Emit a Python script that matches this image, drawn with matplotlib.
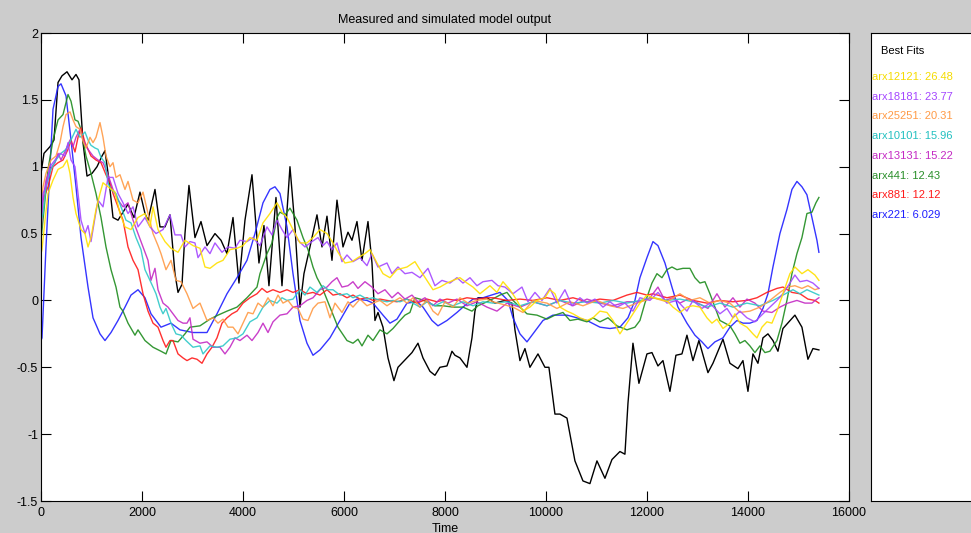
import matplotlib
matplotlib.use("Agg")
import matplotlib.pyplot as plt

plt.rcParams['font.family'] = ['Liberation Sans', 'DejaVu Sans']

# ---------------- data (time, output) ----------------
measured = [(0,0.95),(59,1.1),(178,1.15),(257,1.2),(337,1.63),(416,1.68),(515,1.71),(614,1.65),(693,1.69),(752,1.65),
(832,1.18),(911,0.93),(1010,0.95),(1109,1.0),(1208,1.08),(1267,1.12),(1346,0.9),(1426,0.62),(1525,0.6),(1624,0.66),
(1723,0.72),(1841,0.62),(1960,0.81),(2059,0.65),(2119,0.6),(2257,0.83),(2356,0.55),(2455,0.55),(2554,0.64),(2653,0.2),
(2713,0.06),(2792,0.12),(2851,0.5),(2930,0.86),(3049,0.47),(3168,0.59),(3287,0.41),(3445,0.5),(3564,0.45),(3683,0.35),
(3802,0.62),(3920,0.13),(4039,0.6),(4178,0.94),(4316,0.28),(4415,0.56),(4514,0.11),(4653,0.77),(4772,0.11),(4930,1.0),
(5029,0.55),(5128,-0.05),(5207,0.2),(5326,0.4),(5465,0.64),(5564,0.4),(5663,0.63),(5762,0.3),(5861,0.75),(5980,0.4),
(6079,0.51),(6158,0.45),(6257,0.59),(6356,0.3),(6475,0.59),(6554,0.28),(6613,-0.15),(6673,-0.09),(6772,-0.2),(6871,-0.43),
(6989,-0.6),(7069,-0.5),(7247,-0.43),(7346,-0.39),(7465,-0.32),(7564,-0.43),(7702,-0.53),(7801,-0.56),(7900,-0.5),(8039,-0.49),
(8138,-0.38),(8197,-0.41),(8296,-0.43),(8435,-0.5),(8534,-0.28),(8593,-0.08),(8653,0.02),(8831,0.02),(8989,-0.02),(9187,0.0),
(9326,-0.02),(9385,-0.22),(9484,-0.45),(9583,-0.36),(9682,-0.5),(9841,-0.4),(9979,-0.5),(10058,-0.5),(10177,-0.85),(10276,-0.85),
(10415,-0.88),(10573,-1.2),(10732,-1.35),(10870,-1.37),(11009,-1.2),(11167,-1.33),(11306,-1.19),(11464,-1.13),(11563,-1.15),(11623,-0.77),
(11722,-0.32),(11840,-0.62),(11999,-0.4),(12098,-0.39),(12217,-0.49),(12316,-0.45),(12454,-0.68),(12573,-0.41),(12692,-0.4),(12791,-0.26),
(12910,-0.45),(13028,-0.3),(13207,-0.54),(13306,-0.47),(13504,-0.29),(13642,-0.47),(13801,-0.51),(13900,-0.45),(13999,-0.68),(14098,-0.4),
(14197,-0.47),(14296,-0.28),(14395,-0.25),(14494,-0.3),(14593,-0.38),(14692,-0.21),(14929,-0.11),(15068,-0.2),(15187,-0.44),(15286,-0.36),
(15404,-0.37)]

arx221 = [(0,-0.3),(20,-0.28),(99,0.4),(178,1.0),(238,1.43),(337,1.6),(396,1.62),(495,1.53),(594,1.2),(693,0.85),(792,0.47),
(931,0.1),(1030,-0.13),(1168,-0.25),(1267,-0.3),(1386,-0.24),(1525,-0.15),(1663,-0.05),(1782,0.04),(1921,0.08),(2059,0.02),
(2178,-0.1),(2376,-0.2),(2574,-0.17),(2752,-0.22),(3010,-0.24),(3287,-0.24),(3485,-0.1),(3683,0.05),(3881,0.17),(4079,0.3),
(4237,0.5),(4396,0.73),(4534,0.83),(4633,0.85),(4732,0.8),(4871,0.55),(4990,0.2),(5128,-0.15),(5267,-0.32),(5386,-0.41),
(5524,-0.37),(5722,-0.28),(5920,-0.15),(6118,-0.02),(6257,0.01),(6455,0.0),(6574,-0.02),(6772,-0.11),(6910,-0.17),(7049,-0.14),
(7247,-0.02),(7445,-0.01),(7564,-0.05),(7742,-0.15),(7861,-0.19),(8039,-0.15),(8237,-0.09),(8356,-0.05),(8554,0.01),(8752,0.02),
(9088,0.06),(9247,0.0),(9346,-0.13),(9484,-0.25),(9623,-0.31),(9742,-0.25),(9940,-0.15),(10138,-0.11),(10415,-0.11),(10613,-0.13),
(10811,-0.15),(11068,-0.2),(11266,-0.21),(11464,-0.2),(11623,-0.13),(11761,0.0),(11860,0.17),(11999,0.32),(12118,0.44),(12217,0.41),
(12355,0.28),(12494,0.1),(12613,-0.05),(12791,-0.17),(12949,-0.26),(13088,-0.31),(13207,-0.36),(13345,-0.31),(13504,-0.28),(13642,-0.2),
(13781,-0.15),(13900,-0.17),(14038,-0.17),(14177,-0.15),(14296,-0.06),(14395,0.05),(14494,0.25),(14632,0.5),(14771,0.68),(14870,0.83),
(14969,0.89),(15068,0.85),(15167,0.79),(15266,0.62),(15365,0.45),(15404,0.36)]

arx441 = [(0,0.45),(139,0.98),(238,1.2),(337,1.35),(436,1.39),(535,1.54),(594,1.49),(673,1.35),(733,1.34),(792,1.28),(891,1.08),
(990,0.95),(1089,0.8),(1188,0.62),(1287,0.4),(1386,0.23),(1485,0.1),(1564,-0.05),(1624,-0.08),(1723,-0.17),(1861,-0.26),(1921,-0.22),
(2059,-0.3),(2218,-0.35),(2376,-0.38),(2475,-0.4),(2574,-0.3),(2713,-0.31),(2851,-0.25),(2950,-0.2),(3148,-0.19),(3346,-0.14),
(3505,-0.11),(3683,-0.08),(3881,-0.05),(4079,0.02),(4277,0.1),(4336,0.2),(4475,0.35),(4574,0.43),(4673,0.62),(4732,0.66),
(4831,0.64),(4930,0.69),(5069,0.6),(5188,0.47),(5287,0.38),(5386,0.25),(5465,0.17),(5564,0.1),(5722,-0.05),(5881,-0.2),
(6059,-0.3),(6178,-0.32),(6277,-0.29),(6356,-0.34),(6475,-0.26),(6574,-0.3),(6712,-0.22),(6851,-0.25),(6970,-0.21),(7108,-0.15),
(7207,-0.11),(7306,-0.09),(7405,0.02),(7504,0.01),(7643,-0.01),(7801,-0.04),(7960,-0.04),(8158,-0.05),(8356,-0.05),(8534,-0.08),
(8653,-0.04),(8890,0.0),(9088,0.04),(9227,0.06),(9346,0.0),(9484,-0.05),(9623,-0.1),(9821,-0.11),(10019,-0.14),(10177,-0.11),
(10336,-0.09),(10474,-0.15),(10633,-0.14),(10811,-0.16),(10930,-0.13),(11068,-0.16),(11227,-0.13),(11405,-0.19),(11603,-0.22),(11761,-0.2),
(11860,-0.15),(11959,-0.02),(12098,0.13),(12197,0.2),(12296,0.17),(12395,0.23),(12494,0.25),(12593,0.23),(12712,0.24),(12850,0.24),
(12949,0.17),(13048,0.13),(13147,0.14),(13246,0.05),(13345,-0.05),(13444,-0.15),(13543,-0.17),(13642,-0.19),(13741,-0.25),(13840,-0.32),
(13939,-0.3),(14038,-0.34),(14137,-0.39),(14236,-0.34),(14335,-0.39),(14434,-0.38),(14573,-0.3),(14672,-0.17),(14771,0.0),(14870,0.2),
(14969,0.35),(15068,0.47),(15167,0.65),(15266,0.66),(15345,0.73),(15404,0.77)]

arx12121 = [(0,0.35),(20,0.38),(79,0.6),(139,0.8),(238,0.9),(337,0.98),(436,1.0),(515,1.05),(574,0.95),(634,0.77),(693,0.65),
(792,0.53),(871,0.5),(931,0.4),(990,0.47),(1089,0.68),(1168,0.8),(1228,0.88),(1327,0.85),(1465,0.81),(1564,0.65),(1663,0.55),
(1782,0.53),(1921,0.62),(2059,0.65),(2158,0.55),(2218,0.7),(2317,0.53),(2455,0.44),(2574,0.39),(2713,0.36),(2851,0.45),(3010,0.41),
(3148,0.39),(3247,0.25),(3346,0.24),(3485,0.28),(3604,0.3),(3742,0.38),(3881,0.39),(4000,0.41),(4138,0.47),(4277,0.45),(4396,0.58),
(4534,0.65),(4673,0.73),(4772,0.66),(4871,0.62),(4990,0.53),(5128,0.43),(5267,0.43),(5386,0.47),(5524,0.53),(5663,0.5),(5782,0.43),
(5881,0.36),(6019,0.28),(6158,0.29),(6277,0.32),(6415,0.35),(6514,0.38),(6653,0.28),(6772,0.2),(6910,0.17),(7049,0.23),(7247,0.25),
(7405,0.29),(7504,0.23),(7643,0.15),(7762,0.08),(7900,0.1),(8039,0.13),(8158,0.15),(8296,0.17),(8435,0.13),(8554,0.1),(8692,0.05),
(8890,0.11),(9029,0.06),(9148,0.14),(9286,0.08),(9425,0.0),(9544,-0.08),(9682,-0.05),(9821,0.0),(9979,0.02),(10078,0.08),(10177,0.05),
(10276,-0.05),(10415,-0.08),(10534,-0.1),(10672,-0.13),(10811,-0.15),(10930,-0.13),(11068,-0.08),(11207,-0.09),(11326,-0.15),(11464,-0.25),
(11603,-0.17),(11722,-0.1),(11860,-0.02),(11999,0.04),(12118,0.02),(12256,0.01),(12415,-0.01),(12514,-0.05),(12652,-0.09),(12791,-0.05),
(12910,-0.04),(13048,-0.05),(13187,-0.13),(13286,-0.17),(13385,-0.14),(13504,-0.21),(13642,-0.17),(13741,-0.1),(13840,-0.17),(13979,-0.2),
(14098,-0.25),(14177,-0.28),(14276,-0.2),(14375,-0.16),(14474,-0.17),(14573,-0.08),(14692,0.05),(14830,0.2),(14929,0.25),(15068,0.2),
(15187,0.23),(15325,0.19),(15404,0.15)]

arx18181 = [(0,0.6),(40,0.8),(99,0.85),(178,1.0),(277,1.05),(376,1.1),(475,1.08),(535,1.18),(594,1.05),(673,1.0),(733,0.8),
(792,0.6),(871,0.5),(931,0.56),(990,0.44),(1069,0.62),(1129,0.75),(1228,0.7),(1327,0.92),(1426,0.92),(1525,0.8),(1624,0.73),
(1723,0.65),(1822,0.7),(1921,0.55),(2059,0.62),(2158,0.55),(2277,0.5),(2416,0.53),(2554,0.64),(2653,0.49),(2772,0.49),(2851,0.4),
(2950,0.44),(3049,0.43),(3109,0.32),(3247,0.4),(3346,0.35),(3445,0.43),(3584,0.36),(3703,0.4),(3841,0.39),(3940,0.45),(4079,0.44),
(4198,0.47),(4336,0.41),(4475,0.55),(4574,0.49),(4673,0.6),(4772,0.53),(4871,0.47),(4990,0.53),(5089,0.45),(5227,0.4),(5366,0.44),
(5485,0.47),(5584,0.41),(5663,0.44),(5762,0.38),(5861,0.43),(5960,0.29),(6059,0.34),(6178,0.29),(6316,0.32),(6455,0.26),(6554,0.35),
(6673,0.25),(6851,0.28),(6950,0.2),(7069,0.25),(7207,0.2),(7346,0.21),(7504,0.17),(7663,0.24),(7801,0.11),(7940,0.15),(8098,0.13),
(8237,0.17),(8356,0.13),(8494,0.17),(8633,0.11),(8752,0.14),(8930,0.15),(9049,0.11),(9187,0.1),(9346,0.05),(9524,0.1),(9643,-0.01),
(9781,0.06),(9920,0.0),(10078,0.09),(10217,-0.02),(10375,0.08),(10514,-0.04),(10672,0.02),(10811,-0.02),(10969,0.01),(11128,-0.05),
(11266,-0.01),(11405,-0.05),(11563,-0.02),(11722,-0.08),(11860,0.02),(12058,0.0),(12217,0.06),(12395,-0.02),(12593,0.0),(12791,-0.08),
(12910,0.0),(13088,-0.06),(13246,-0.02),(13444,-0.1),(13583,-0.06),(13702,-0.13),(13840,-0.08),(13979,-0.13),(14137,-0.16),(14296,-0.1),
(14434,-0.05),(14573,0.0),(14692,0.05),(14830,0.13),(14929,0.19),(15028,0.14),(15167,0.15),(15286,0.13),(15404,0.09)]

arx25251 = [(0,0.7),(40,0.85),(99,0.95),(198,1.05),(297,1.08),(376,1.18),(436,1.3),(495,1.39),(574,1.41),(634,1.35),(693,1.3),
(772,1.28),(832,1.19),(891,1.14),(970,1.22),(1030,1.18),(1089,1.22),(1168,1.33),(1228,1.22),(1287,1.08),(1366,1.0),(1426,1.03),
(1485,0.92),(1564,0.94),(1663,0.83),(1723,0.89),(1822,0.75),(1921,0.73),(2020,0.81),(2119,0.65),(2218,0.5),(2317,0.41),(2376,0.35),
(2475,0.23),(2574,0.3),(2673,0.15),(2772,0.14),(2891,0.05),(3010,-0.06),(3148,-0.02),(3287,-0.15),(3406,-0.13),(3505,-0.17),
(3604,-0.14),(3703,-0.2),(3802,-0.2),(3901,-0.25),(4000,-0.17),(4099,-0.09),(4198,-0.1),(4297,-0.02),(4396,-0.05),(4495,0.02),
(4594,-0.04),(4693,0.04),(4792,-0.02),(4891,0.0),(4990,-0.05),(5089,-0.06),(5188,-0.14),(5287,-0.15),(5386,-0.06),(5485,-0.02),
(5623,-0.01),(5722,-0.13),(5821,-0.02),(5960,-0.09),(6079,-0.01),(6178,-0.05),(6316,0.01),(6455,-0.04),(6574,-0.02),(6712,0.0),
(6851,-0.04),(6970,-0.01),(7108,0.02),(7247,-0.02),(7366,0.02),(7504,-0.05),(7643,0.0),(7762,-0.08),(7861,-0.11),(7999,-0.01),
(8158,-0.05),(8296,0.02),(8455,-0.02),(8633,0.0),(8831,0.01),(8950,-0.01),(9346,-0.05),(9544,-0.09),(9742,0.0),(10019,-0.02),
(10217,-0.06),(10474,-0.01),(10732,-0.04),(11009,0.0),(11266,-0.04),(11524,-0.06),(11801,-0.02),(12118,0.02),(12395,-0.01),(12652,0.05),
(12850,0.0),(13048,0.02),(13246,-0.02),(13444,0.0),(13642,-0.02),(13840,-0.09),(14038,-0.08),(14236,-0.05),(14434,0.0),(14632,0.06),
(14791,0.1),(14929,0.11),(15068,0.09),(15187,0.11),(15325,0.08),(15404,0.09)]

arx10101 = [(0,0.6),(40,0.65),(99,0.85),(198,0.98),(297,1.05),(396,1.1),(495,1.13),(594,1.2),(693,1.28),(772,1.22),(871,1.26),
(931,1.2),(990,1.16),(1069,1.14),(1129,1.13),(1188,1.07),(1267,1.03),(1327,0.88),(1386,0.83),(1485,0.8),(1584,0.7),(1683,0.6),
(1782,0.58),(1881,0.47),(1980,0.38),(2059,0.23),(2158,0.15),(2218,0.1),(2277,0.05),(2356,-0.05),(2416,-0.1),(2475,-0.06),(2574,-0.17),
(2673,-0.25),(2772,-0.26),(2871,-0.3),(3010,-0.35),(3148,-0.34),(3208,-0.4),(3346,-0.34),(3485,-0.35),(3604,-0.34),(3742,-0.29),
(3881,-0.28),(4000,-0.25),(4138,-0.16),(4277,-0.13),(4396,-0.05),(4534,0.0),(4673,-0.02),(4772,0.02),(4871,0.0),(4990,0.01),
(5128,0.08),(5227,0.04),(5326,0.1),(5465,0.06),(5584,0.11),(5683,0.08),(5782,0.08),(5920,0.04),(6059,0.05),(6178,0.02),(6316,0.04),
(6455,0.01),(6574,0.02),(6712,0.0),(6851,-0.01),(6970,0.0),(7108,-0.01),(7247,0.01),(7366,-0.02),(7504,-0.05),(7643,-0.01),
(7801,-0.04),(7960,-0.01),(8158,-0.04),(8356,-0.01),(8554,-0.04),(8752,-0.01),(8950,-0.02),(9227,-0.01),(9484,-0.04),(9742,-0.01),
(10019,-0.04),(10276,0.0),(10534,-0.02),(10811,-0.01),(11068,-0.02),(11326,0.0),(11603,-0.02),(11860,0.0),(12118,0.02),(12395,0.0),
(12652,0.01),(12910,-0.01),(13187,-0.05),(13444,-0.02),(13702,-0.05),(13979,-0.02),(14236,-0.04),(14494,0.0),(14692,0.04),(14890,0.08),
(15028,0.05),(15167,0.08),(15286,0.06),(15404,0.04)]

arx13131 = [(0,0.5),(40,0.75),(99,0.9),(178,0.98),(277,1.03),(337,1.1),(396,1.05),(495,1.13),(574,1.2),(634,1.15),(693,1.22),
(772,1.28),(832,1.2),(931,1.13),(1030,1.08),(1129,1.05),(1228,1.03),(1327,0.94),(1426,0.83),(1525,0.75),(1624,0.7),(1723,0.73),
(1822,0.6),(1921,0.5),(2020,0.4),(2119,0.3),(2178,0.15),(2257,0.24),(2317,0.08),(2416,-0.02),(2515,-0.05),(2614,-0.1),(2713,-0.15),
(2812,-0.17),(2891,-0.17),(2950,-0.13),(3010,-0.29),(3148,-0.32),(3287,-0.31),(3406,-0.35),(3544,-0.35),(3643,-0.4),(3742,-0.35),
(3841,-0.28),(3940,-0.3),(4079,-0.26),(4178,-0.3),(4297,-0.24),(4396,-0.17),(4495,-0.24),(4594,-0.16),(4732,-0.11),(4871,-0.1),
(4990,-0.05),(5128,-0.04),(5267,0.0),(5386,0.02),(5524,0.08),(5663,0.1),(5762,0.14),(5861,0.17),(5960,0.1),(6079,0.11),(6178,0.14),
(6277,0.09),(6415,0.14),(6554,0.1),(6673,0.05),(6811,0.08),(6950,0.02),(7069,0.06),(7207,0.01),(7346,0.04),(7465,-0.01),(7603,0.02),
(7762,-0.04),(7900,0.01),(8059,-0.02),(8237,0.01),(8435,-0.04),(8633,-0.01),(8831,-0.05),(9029,-0.08),(9227,-0.02),(9484,-0.05),
(9742,-0.01),(10019,-0.04),(10276,0.0),(10534,-0.04),(10811,0.01),(11068,-0.02),(11326,-0.04),(11603,-0.01),(11860,-0.01),(12058,0.02),
(12217,0.1),(12355,0.0),(12514,0.02),(12652,-0.02),(12811,0.01),(13009,-0.02),(13207,-0.06),(13385,0.05),(13543,-0.05),(13702,0.02),
(13840,-0.05),(13979,0.01),(14137,-0.02),(14296,-0.08),(14474,-0.09),(14632,-0.05),(14791,-0.02),(14969,0.0),(15127,-0.02),(15266,-0.02),
(15365,0.01),(15404,0.02)]

arx881 = [(0,0.6),(40,0.75),(139,0.85),(238,1.0),(337,1.03),(436,1.05),(535,1.13),(594,1.2),(673,1.11),(733,1.22),(792,1.29),
(871,1.18),(931,1.13),(990,1.08),(1089,1.05),(1188,1.03),(1287,0.94),(1366,0.88),(1426,0.8),(1525,0.7),(1624,0.6),(1723,0.4),
(1822,0.3),(1921,0.23),(2020,0.05),(2119,-0.08),(2218,-0.17),(2317,-0.2),(2416,-0.3),(2475,-0.35),(2554,-0.3),(2614,-0.3),(2713,-0.4),
(2812,-0.43),(2891,-0.45),(2990,-0.43),(3089,-0.44),(3188,-0.47),(3287,-0.4),(3386,-0.35),(3485,-0.28),(3584,-0.17),(3683,-0.13),
(3782,-0.1),(3881,-0.08),(4000,-0.02),(4138,0.02),(4277,0.05),(4376,0.09),(4475,0.06),(4594,0.08),(4732,0.06),(4871,0.08),(4990,0.06),
(5128,0.08),(5267,0.05),(5386,0.06),(5524,0.04),(5663,0.08),(5782,0.04),(5920,0.05),(6059,0.02),(6178,0.04),(6316,0.01),(6455,0.02),
(6574,0.0),(6712,0.01),(6851,0.0),(7049,-0.01),(7247,0.01),(7445,-0.02),(7643,0.01),(7841,-0.01),(8039,0.01),(8237,0.0),(8435,0.02),
(8633,0.01),(8831,0.02),(8950,0.02),(9227,0.0),(9484,0.01),(9742,0.0),(10019,0.02),(10276,0.0),(10534,0.02),(10811,-0.01),(11068,0.01),
(11326,0.0),(11603,0.04),(11801,0.06),(11999,0.04),(12118,0.05),(12395,0.02),(12652,0.04),(12910,0.0),(13187,-0.02),(13444,0.0),
(13702,-0.01),(13979,0.0),(14177,0.02),(14375,0.06),(14573,0.09),(14692,0.1),(14870,0.06),(15028,0.05),(15187,0.01),(15325,0.0),
(15404,-0.02)]

legend_names = ['arx12121', 'arx18181', 'arx25251', 'arx10101', 'arx13131', 'arx441', 'arx881', 'arx221']
legend_fits = ['26.48', '23.77', '20.31', '15.96', '15.22', '12.43', '12.12', '6.029']
x_ticks = [0, 2000, 4000, 6000, 8000, 10000, 12000, 14000, 16000]
y_ticks = [-1.5, -1, -0.5, 0, 0.5, 1, 1.5, 2]
y_tick_labels = ['-1.5', '-1', '-0.5', '0', '0.5', '1', '1.5', '2']

# ---------------- styling ----------------
model_series = {
    'arx221': (arx221, '#1f1fff'),
    'arx441': (arx441, '#1e8c1e'),
    'arx881': (arx881, '#ff1a1a'),
    'arx13131': (arx13131, '#c42ac4'),
    'arx10101': (arx10101, '#2ec8c8'),
    'arx25251': (arx25251, '#ff9a45'),
    'arx18181': (arx18181, '#a447ff'),
    'arx12121': (arx12121, '#ffe000'),
}
text_colors = {
    'arx12121': '#f5dc00', 'arx18181': '#a447ff', 'arx25251': '#ff9a45',
    'arx10101': '#22c0c0', 'arx13131': '#c42ac4', 'arx441': '#2a8f2a',
    'arx881': '#ff1a1a', 'arx221': '#1f1fff',
}

W, H = 971, 533
fig = plt.figure(figsize=(W / 100, H / 100), dpi=100, facecolor='#cccccc')
ax = fig.add_axes([41 / W, 32 / H, 808 / W, 468 / H])
ax.set_facecolor('white')

t, y = zip(*measured)
ax.plot(t, y, color='black', lw=1.0)
for name in ['arx221', 'arx441', 'arx881', 'arx13131', 'arx10101', 'arx25251', 'arx18181', 'arx12121']:
    data, col = model_series[name]
    t, y = zip(*data)
    ax.plot(t, y, color=col, lw=1.0, alpha=0.9)

ax.set_xlim(0, 16000)
ax.set_ylim(-1.5, 2)
ax.set_xticks(x_ticks)
ax.set_xticklabels([str(v) for v in x_ticks])
ax.set_yticks(y_ticks)
ax.set_yticklabels(y_tick_labels)
ax.tick_params(direction='in', length=7, width=0.8, top=True, right=True,
               labelsize=9, colors='black')
ax.tick_params(axis='x', pad=4)
ax.tick_params(axis='y', pad=2)
for s in ax.spines.values():
    s.set_color('black')
    s.set_linewidth(0.8)
ax.set_title('Measured and simulated model output', fontsize=9, pad=7)
ax.set_xlabel('Time', fontsize=9, labelpad=3)

# legend panel
lax = fig.add_axes([871 / W, 32 / H, 110 / W, 468 / H])
lax.set_facecolor('white')
lax.set_xticks([])
lax.set_yticks([])
for s in lax.spines.values():
    s.set_color('black')
    s.set_linewidth(0.8)
fig.text(881 / W, 1 - 51 / H, 'Best Fits', fontsize=8, va='center', ha='left', color='black')
for i, (n, f) in enumerate(zip(legend_names, legend_fits)):
    yy = 77 + 19.7 * i
    fig.text(872 / W, 1 - yy / H, f'{n}: {f}', fontsize=8, va='center', ha='left',
             color=text_colors[n])

fig.savefig('out.png', dpi=100, facecolor=fig.get_facecolor())
